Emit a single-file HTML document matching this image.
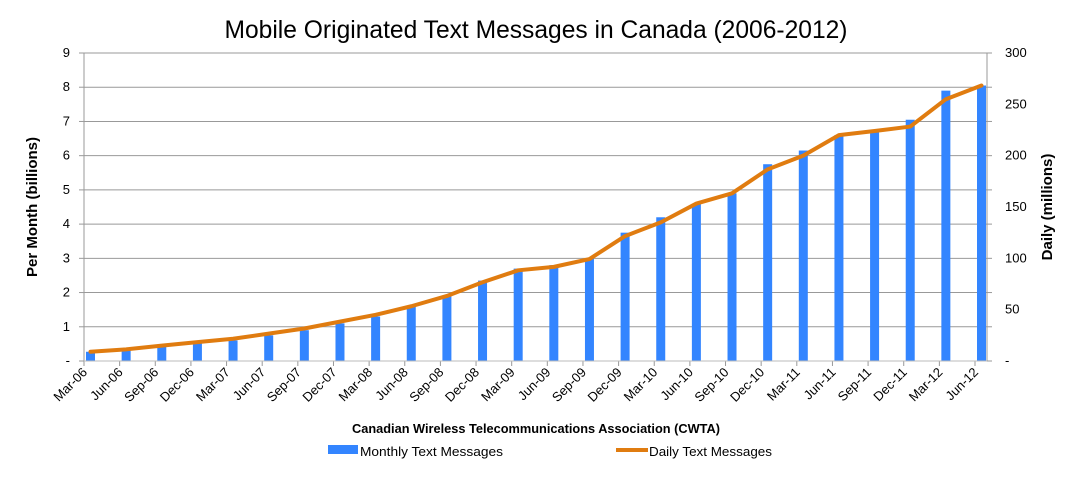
<!DOCTYPE html>
<html><head><meta charset="utf-8"><style>html,body{margin:0;padding:0;background:#fff}svg{display:block}</style></head>
<body>
<svg width="1072" height="477" xmlns="http://www.w3.org/2000/svg" font-family="'Liberation Sans', sans-serif">
<text x="536" y="38" text-anchor="middle" font-size="25" textLength="623" lengthAdjust="spacingAndGlyphs">Mobile Originated Text Messages in Canada (2006-2012)</text>
<g id="plot"></g>
<text x="0" y="0" transform="translate(37,207) rotate(-90)" text-anchor="middle" font-size="15" font-weight="bold">Per Month (billions)</text>
<text x="0" y="0" transform="translate(1052,207) rotate(-90)" text-anchor="middle" font-size="15" font-weight="bold">Daily (millions)</text>
<text x="536" y="433" text-anchor="middle" font-size="12.5" font-weight="bold" textLength="368" lengthAdjust="spacingAndGlyphs">Canadian Wireless Telecommunications Association (CWTA)</text>
<rect x="328" y="445" width="30" height="9" fill="#3385ff"/>
<text x="360" y="456" font-size="13" textLength="143" lengthAdjust="spacingAndGlyphs">Monthly Text Messages</text>
<line x1="616" y1="450" x2="648" y2="450" stroke="#e07c10" stroke-width="4"/>
<text x="649" y="456" font-size="13" textLength="123" lengthAdjust="spacingAndGlyphs">Daily Text Messages</text>
</svg>
<script>
(function(){
var ns="http://www.w3.org/2000/svg",g=document.getElementById("plot");
function el(t,a,txt){var e=document.createElementNS(ns,t);for(var k in a)e.setAttribute(k,a[k]);if(txt!=null)e.textContent=txt;g.appendChild(e);return e;}
var L=84,R=987,T=53,B=361,u=(B-T)/9;
for(var i=1;i<=9;i++){var y=B-i*u;el("line",{x1:L,y1:y,x2:R,y2:y,stroke:"#999","stroke-width":1});}
for(var i=0;i<=9;i++){var y=B-i*u;el("line",{x1:L-5,y1:y,x2:L,y2:y,stroke:"#999"});el("line",{x1:R,y1:y,x2:R+5,y2:y,stroke:"#999"});
el("text",{x:L-14,y:y+4,"text-anchor":"end","font-size":13},i==0?"-":String(i));}
for(var i=0;i<=6;i++){var y=B-i*50/300*9*u;el("text",{x:1005,y:y+4,"font-size":13},i==0?"-":String(i*50));}
var labs=["Mar-06","Jun-06","Sep-06","Dec-06","Mar-07","Jun-07","Sep-07","Dec-07","Mar-08","Jun-08","Sep-08","Dec-08","Mar-09","Jun-09","Sep-09","Dec-09","Mar-10","Jun-10","Sep-10","Dec-10","Mar-11","Jun-11","Sep-11","Dec-11","Mar-12","Jun-12"];
var bars=[0.27,0.33,0.42,0.52,0.6,0.75,0.9,1.1,1.3,1.6,1.9,2.35,2.7,2.8,3.0,3.75,4.2,4.6,4.9,5.75,6.15,6.6,6.7,7.05,7.9,8.05];
var line=[0.27,0.34,0.45,0.55,0.65,0.8,0.95,1.15,1.35,1.6,1.9,2.3,2.65,2.75,2.98,3.65,4.05,4.6,4.9,5.6,6.0,6.6,6.72,6.85,7.65,8.05];
var sp=(975-L)/25,pts=[];
for(var i=0;i<26;i++){var t=L+i*sp;
el("line",{x1:t,y1:B,x2:t,y2:B+5,stroke:"#999"});
var h=bars[i]*u;el("rect",{x:t+2,y:B-h,width:9,height:h,fill:"#3385ff"});
pts.push((t+6.5)+","+(B-line[i]*u));
el("text",{x:0,y:0,transform:"translate("+(t+4)+","+(B+12)+") rotate(-45)","text-anchor":"end","font-size":13},labs[i]);}
el("line",{x1:L,y1:T,x2:L,y2:B,stroke:"#999"});el("line",{x1:R,y1:T,x2:R,y2:B,stroke:"#999"});
el("line",{x1:L,y1:B,x2:R,y2:B,stroke:"#bbb"});
el("polyline",{points:pts.join(" "),fill:"none",stroke:"#e07c10","stroke-width":4,"stroke-linejoin":"round","stroke-linecap":"round"});
})();
</script>
</body></html>
